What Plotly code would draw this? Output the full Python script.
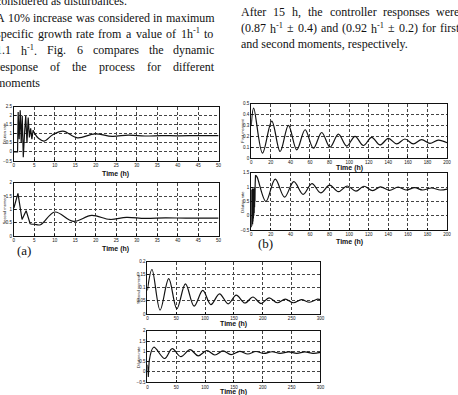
import re
import plotly.graph_objects as go

W, H = 458, 395

# ---------------- data ----------------
# (a) top: dilution rate, 0-50 h (fast oscillating start, then smooth)
ta_top_fast = [0, 0.9, 1.05, 1.3, 1.55, 1.8, 2.05, 2.3, 2.6, 2.9, 3.2, 3.5, 3.8, 4.1, 4.4, 4.7, 5.0]
ya_top_fast = [0, 0, 2.2, 0.7, 2.3, 0.5, 2.0, -0.3, 1.0, 2.0, 0.5, 1.9, 0.8, 1.3, 0.7, 1.2, 1.05]
ta_top_slow = [5.0, 6.0, 7.4, 9.5, 12, 15.5, 19.8, 24, 28, 32, 36, 40, 45, 50]
ya_top_slow = [1.05, 0.75, 0.6, 0.95, 1.15, 0.78, 1.0, 0.86, 0.93, 0.88, 0.9, 0.89, 0.9, 0.9]

# (a) bottom: second moment, 0-50 h
ta_bot_fast = [0, 1.0, 2.0, 3.0, 4.0]
ya_bot_fast = [1.05, 1.6, 0.62, 0.95, 0.45]
ta_bot_slow = [4.0, 5.0, 6.5, 10, 14.5, 19, 23.5, 27.5, 32, 37, 42, 50]
ya_bot_slow = [0.45, 0.44, 0.42, 0.9, 0.55, 0.77, 0.62, 0.7, 0.66, 0.68, 0.67, 0.67]

# (b) top: first moment, 0-200 h
tb_top = [0, 2.5, 11.5, 21, 29.5, 38, 46.5, 55, 63.5, 72, 80.5, 89, 97.5, 106, 114.5, 123,
          131.5, 140, 148.5, 157, 165.5, 174, 182.5, 191, 200]
yb_top = [0.3, 0.46, 0.045, 0.34, 0.06, 0.3, 0.075, 0.26, 0.09, 0.235, 0.1, 0.22, 0.11, 0.2, 0.115, 0.19,
          0.12, 0.18, 0.13, 0.175, 0.13, 0.17, 0.135, 0.165, 0.14]

# (b) bottom: dilution rate, 0-200 h
tb_bot_fast = [0, 0.2, 0.4, 0.6, 0.8, 1.0, 1.2, 1.4, 1.6, 1.8, 2.0, 2.2, 2.4, 2.6, 2.8, 3.0,
               3.2, 3.4, 3.6, 3.8, 4.0, 4.4]
yb_bot_fast = [0.3, -0.4, 0.9, -0.35, 0.9, -0.3, 0.95, -0.3, 0.9, -0.2, 0.95, -0.1, 0.9, 0.0, 0.95, 0.1,
               0.9, 0.3, 1.0, 0.5, 1.1, 1.42]
tb_bot_slow = [4.4, 6, 15, 24.5, 34, 43.5, 53, 62, 71, 80, 89, 98, 107, 115, 124, 132, 141, 150,
               158, 167, 175, 184, 193, 200]
yb_bot_slow = [1.42, 1.35, 0.5, 1.28, 0.65, 1.19, 0.75, 1.12, 0.8, 1.07, 0.84, 1.04, 0.86, 1.03, 0.88,
               1.01, 0.89, 1.0, 0.9, 0.98, 0.9, 0.97, 0.9, 0.93]

# (c) top: second moment, 0-300 h
tc_top = [0, 8, 22, 37, 51, 66, 81, 96, 110, 125, 140, 154, 169, 183, 197, 211, 225, 239,
          253, 267, 281, 295, 300]
yc_top = [0.09, 0.17, 0.015, 0.135, 0.02, 0.115, 0.03, 0.09, 0.036, 0.077, 0.039, 0.072, 0.042,
          0.065, 0.04, 0.062, 0.043, 0.057, 0.043, 0.055, 0.045, 0.057, 0.055]

# (c) bottom: dilution rate, 0-300 h
tc_bot_fast = [0, 1.5, 3]
yc_bot_fast = [0.35, -0.25, 0.5]
tc_bot_slow = [3, 11, 30, 43, 58, 74, 88, 103, 117, 131, 145, 160, 174, 188, 202, 216, 230,
               245, 259, 273, 287, 300]
yc_bot_slow = [0.5, 1.2, 0.65, 1.13, 0.74, 1.08, 0.78, 1.04, 0.82, 1.02, 0.84, 1.0, 0.87, 0.99,
               0.9, 0.98, 0.9, 0.97, 0.9, 0.97, 0.9, 0.95]

# body text of the page
SUP = "<sup>-1</sup>"
left_text = [
    ("considered as disturbances.", False),
    ("A 10% increase was considered in maximum", True),
    ("specific growth rate from a value of 1h" + SUP + " to", True),
    ("1.1 h" + SUP + ". Fig. 6 compares the dynamic", True),
    ("response of the process for different", True),
    ("moments", False),
]
right_text = [
    ("After 15 h, the controller responses were", True),
    ("(0.87 h" + SUP + " ± 0.4) and (0.92 h" + SUP + " ± 0.2) for first", True),
    ("and second moments, respectively.", False),
]

# ---------------- layout helpers ----------------
def px(x):
    return x / W


def py(y):
    return 1 - y / H


panels = [
    # id, x0, x1, ytop, ybottom, xrange, xdtick, yrange, ydtick
    ("", 13, 220, 106, 161, [0, 50], 5, [-0.5, 2.5], 0.5),
    ("2", 13, 220, 183, 237, [0, 50], 5, [0, 2], 0.5),
    ("3", 253, 451, 103, 158, [0, 200], 20, [0, 0.5], 0.1),
    ("4", 253, 451, 173, 231, [0, 200], 20, [-0.5, 1.5], 0.5),
    ("5", 148, 323, 263, 316, [0, 300], 50, [0, 0.2], 0.05),
    ("6", 148, 323, 333, 385, [0, 300], 50, [-0.5, 2], 0.5),
]

fig = go.Figure()
line = dict(color="#111111", width=1.2)


def add(ax, xs, ys, shape):
    fig.add_trace(go.Scatter(x=xs, y=ys, mode="lines", line=dict(line, shape=shape),
                             xaxis="x" + ax, yaxis="y" + ax, showlegend=False, hoverinfo="skip"))


add("", ta_top_fast, ya_top_fast, "linear")
add("", ta_top_slow, ya_top_slow, "spline")
add("2", ta_bot_fast, ya_bot_fast, "linear")
add("2", ta_bot_slow, ya_bot_slow, "spline")
add("3", tb_top, yb_top, "spline")
add("4", tb_bot_fast, yb_bot_fast, "linear")
add("4", tb_bot_slow, yb_bot_slow, "spline")
add("5", tc_top, yc_top, "spline")
add("6", tc_bot_fast, yc_bot_fast, "linear")
add("6", tc_bot_slow, yc_bot_slow, "spline")

tickfont = dict(family="Arial", size=4.5, color="#111111")
layout = dict(width=W, height=H, margin=dict(l=0, r=0, t=0, b=0),
              paper_bgcolor="white", plot_bgcolor="white", showlegend=False)

for pid, x0, x1, yt, yb, xr, xd, yr, yd in panels:
    common = dict(showline=True, linecolor="#111111", linewidth=1, mirror=True,
                  ticks="inside", ticklen=2, tickcolor="#111111", tickwidth=0.8,
                  showgrid=True, gridcolor="#444444", griddash="3px,2px", gridwidth=0.6,
                  zeroline=False, tickfont=tickfont, fixedrange=True)
    layout["xaxis" + pid] = dict(common, domain=[px(x0), px(x1)], range=xr, dtick=xd, tick0=0,
                                 anchor="y" + pid)
    layout["yaxis" + pid] = dict(common, domain=[py(yb), py(yt)], range=yr, dtick=yd, tick0=0,
                                 anchor="x" + pid)

fig.update_layout(**layout)

ann = []


def text(t, x, y, size=12, family="Liberation Serif", anchor="left", angle=0, bold=False):
    if bold:
        t = "<b>" + t + "</b>"
    ann.append(dict(text=t, x=px(x), y=py(y), xref="paper", yref="paper", showarrow=False,
                    xanchor=anchor, yanchor="middle", textangle=angle, borderpad=0, borderwidth=0,
                    font=dict(family=family, size=size, color="#111111")))


# Times / Liberation Serif advance widths (em/1000)
TW = {" ": 250, "(": 333, ")": 333, "%": 833, ",": 250, "-": 333, ".": 250, "±": 564,
      "A": 722, "F": 556, "a": 444, "b": 500, "c": 444, "d": 500, "e": 444, "f": 333, "g": 500,
      "h": 500, "i": 278, "l": 278, "m": 778, "n": 500, "o": 500, "p": 500, "r": 333, "s": 389,
      "t": 278, "u": 500, "v": 500, "w": 722, "x": 500, "y": 444}


def width(word, size):
    total = 0.0
    for part, is_sup in re.findall(r"<sup>(.*?)</sup>|([^<]+)", word) and \
            [(m.group(1) or m.group(2), m.group(1) is not None)
             for m in re.finditer(r"<sup>(.*?)</sup>|([^<]+)", word)]:
        f = 0.7 if is_sup else 1.0
        total += sum(TW.get(ch, 500) for ch in part) / 1000 * size * f
    return total


def paragraph(lines, left, right, y0, dy, size=12):
    for i, (ln, just) in enumerate(lines):
        y = y0 + i * dy
        if not just:
            text(ln, left, y, size=size)
            continue
        words = ln.split(" ")
        ws = [width(w, size) for w in words]
        gap = (right - left - sum(ws)) / (len(words) - 1)
        x = left
        for w, wd in zip(words, ws):
            text(w, x, y, size=size)
            x += wd + gap


paragraph(left_text, -5, 215, -1, 16.7)
paragraph(right_text, 243, 463, 10, 16.5)

# axis titles
for x, y in [(116, 174), (116, 250), (352, 168), (352, 243), (235, 326), (235, 395)]:
    text("Time (h)", x, y, size=7, family="Arial", anchor="center", bold=True)

for t, x, y in [("Dilution rate", 3, 133), ("Second moment", 3, 210), ("First moment", 244, 130),
                ("Dilution rate", 244, 202), ("Second moment", 139, 290), ("Dilution rate", 139, 359)]:
    text(t, x, y, size=4, family="Arial", anchor="center", angle=-90)

text("(a)", 23, 252, size=13, anchor="center")
text("(b)", 267, 245, size=13, anchor="center")

fig.update_layout(annotations=ann)
fig.write_html("out.html")
